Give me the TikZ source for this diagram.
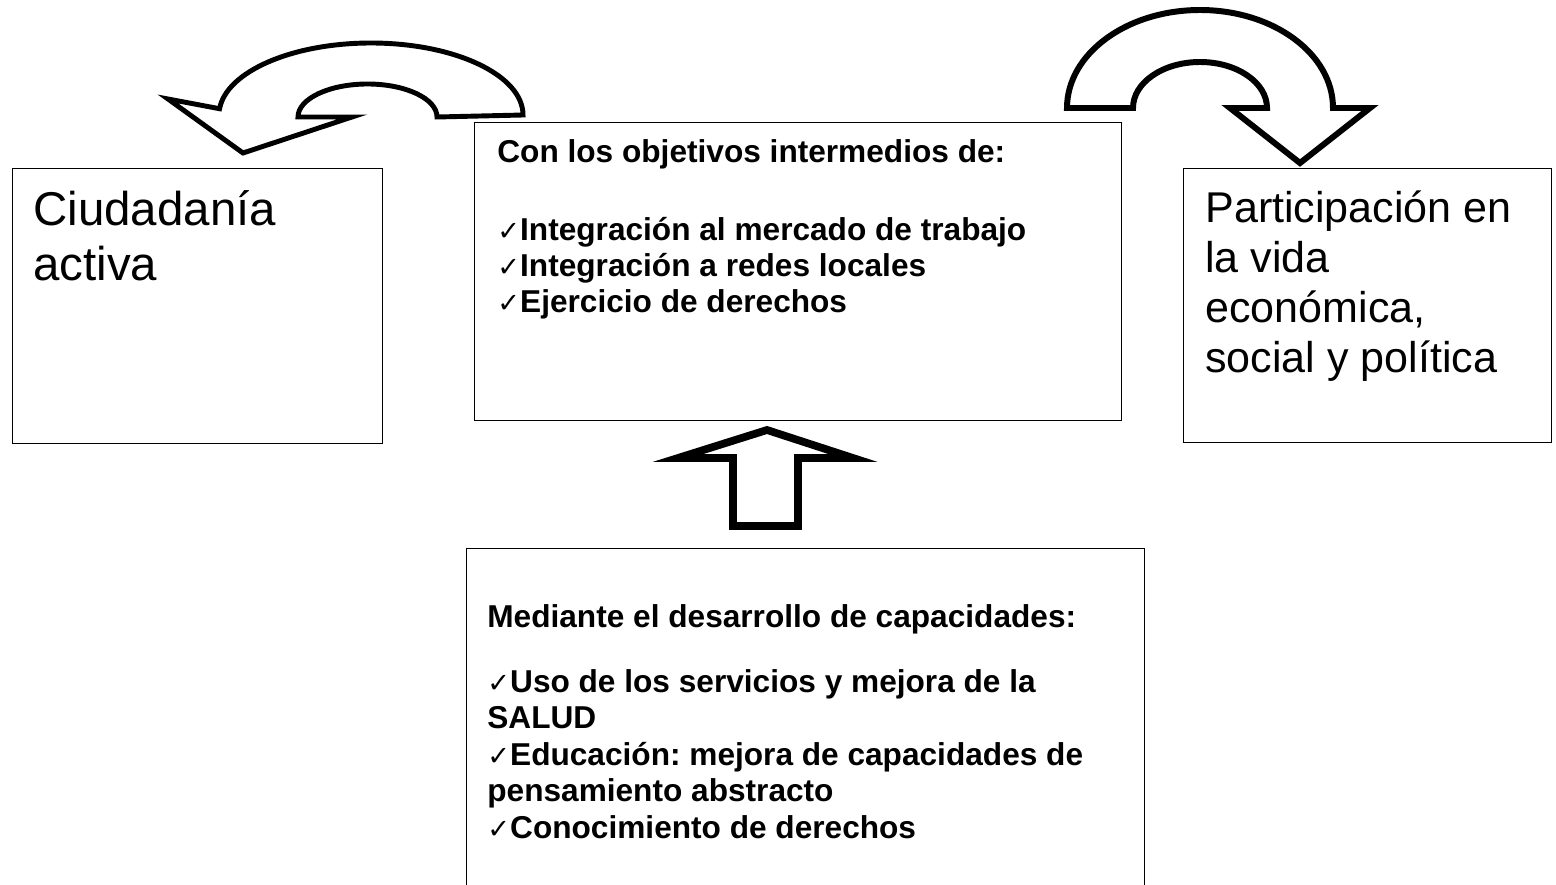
\documentclass[tikz,border=0pt]{standalone}
\usepackage{fontspec}
\setmainfont{Liberation Sans}
\newfontfamily\chkfont{DejaVu Sans}
\newcommand{\marca}{{\chkfont\fontsize{15.5}{15.5}\selectfont ✓}}
\frenchspacing

\tikzset{
  caja/.style={draw, line width=0.8pt, inner sep=0pt, anchor=north west},
  grande/.style={inner sep=0pt, anchor=base west, align=left},
  negrita/.style={inner sep=0pt, anchor=base west, align=left,
    font=\fontsize{18}{20.7}\selectfont\bfseries},
  flecha/.style={draw, fill=white, line join=miter}
}

\begin{document}
\begin{tikzpicture}[x=0.02cm, y=-0.02cm]

\useasboundingbox (0,0) rectangle (1556,885);

% Cajas
\node[caja, minimum width=7.4cm, minimum height=5.5cm]
  (izq) at (12,168) {};
\node[caja, minimum width=12.94cm, minimum height=5.96cm]
  (centro) at (474,122) {};
\node[caja, minimum width=7.36cm, minimum height=5.48cm]
  (der) at (1183,168) {};
\node[caja, minimum width=13.56cm, minimum height=7cm]
  (abajo) at (466,548) {};

% Textos (base = ultima linea)
\node[grande, font=\fontsize{27}{31.8}\selectfont]
  (izqtxt) at (33,281)
  {Ciudadanía\\activa};

\node[grande, font=\fontsize{24.5}{28.5}\selectfont]
  (dertxt) at (1205,373)
  {Participación en\\la vida\\económica,\\social y política};

\node[negrita]
  (centrotit) at (497,163)
  {Con los objetivos intermedios de:};
\node[negrita]
  (centrolista) at (497,313)
  {\marca Integración al mercado de trabajo\\
   \marca Integración a redes locales\\
   \marca Ejercicio de derechos};

\node[negrita]
  (abajotit) at (487,627)
  {Mediante el desarrollo de capacidades:};
\node[negrita]
  (abajolista) at (487,838)
  {\marca Uso de los servicios y mejora de la\\
   SALUD\\
   \marca Educación: mejora de capacidades de\\
   pensamiento abstracto\\
   \marca Conocimiento de derechos};

% Flecha curva izquierda
\path[flecha, line width=2.8pt]
(523,115)
arc[start angle=0, end angle=-175, x radius=152, y radius=72]
-- (168,99)
-- (243,153)
-- (352,117)
-- (298,117)
arc[start angle=-180, end angle=0, x radius=69.5, y radius=33]
-- cycle;

% Flecha curva derecha
\path[flecha, line width=3.4pt]
(1067,108)
arc[start angle=-180, end angle=0, x radius=133, y radius=98]
-- (1370,108)
-- (1300,163)
-- (1230,108)
-- (1267,108)
arc[start angle=0, end angle=-180, x radius=67, y radius=46]
-- cycle;

% Flecha hacia arriba
\path[flecha, line width=4.4pt]
(767,430)
-- (853,458)
-- (798,458)
-- (798,526)
-- (733,526)
-- (733,458)
-- (678,458)
-- cycle;

\end{tikzpicture}
\end{document}
